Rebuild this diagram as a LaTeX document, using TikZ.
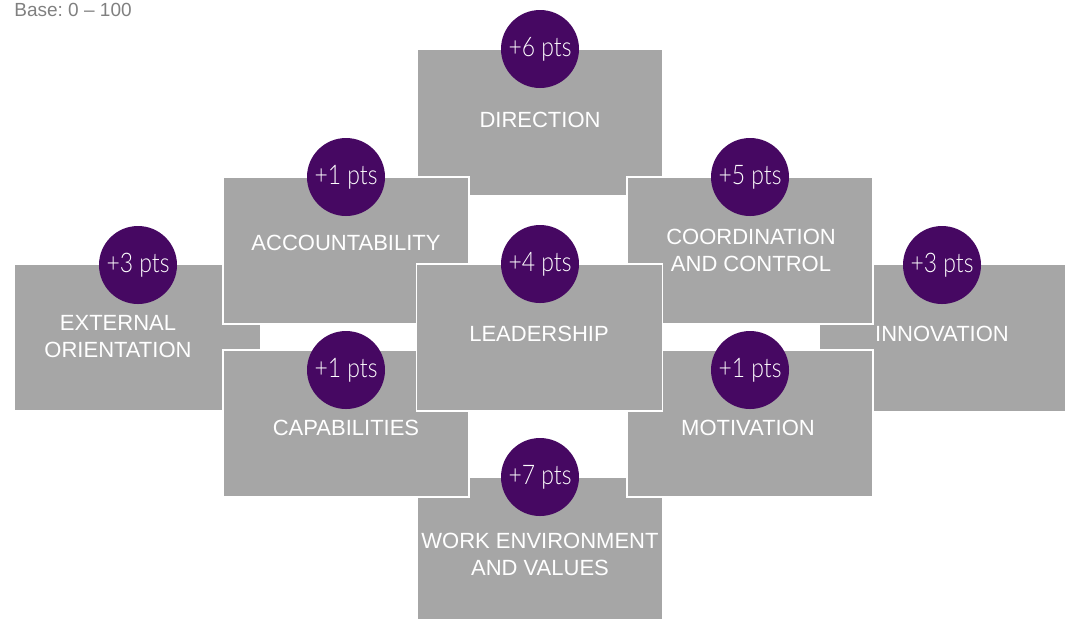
\documentclass[tikz,border=0pt]{standalone}
\usepackage{fontspec}
\setmainfont{Liberation Sans}
\newfontfamily\thinfont[FakeStretch=0.85]{Lato Light}
\frenchspacing
\usetikzlibrary{positioning}
\definecolor{boxgray}{HTML}{A6A6A6}
\definecolor{dotpurple}{HTML}{460862}
\definecolor{basegray}{HTML}{808080}

\tikzset{
  area/.style={rectangle, fill=boxgray, draw=white, line width=0.8pt,
    minimum width=123pt, minimum height=73.5pt, inner sep=0pt},
  areatext/.style={text=white, align=center, inner sep=0pt,
    font=\fontsize{11}{13.5}\selectfont},
  score/.style={circle, fill=dotpurple, minimum size=39pt, inner sep=0pt,
    text=white, font=\thinfont\fontsize{13.5}{15}\selectfont}
}

\begin{document}
\begin{tikzpicture}[x=0.5pt, y=-0.5pt]
        \useasboundingbox (0,0) rectangle (1069,618);
        \node[font=\fontsize{9.5}{11}\selectfont, text=basegray, anchor=west, inner sep=0pt] (base) at (14,10) {Base: 0 -- 100};
        % areas, back to front
        \node[area] (external) at (137.5,337.5) {};
        \node[area] (innovation) at (942.5,338) {};
        \node[area] (direction) at (540,122.5) {};
        \node[area] (workenv) at (540,550.5) {};
        \node[area] (account) at (346,250.5) {};
        \node[area] (coord) at (750,250.5) {};
        \node[area] (capab) at (346,423.5) {};
        \node[area] (motiv) at (750,423.5) {};
        \node[area] (leader) at (539.5,337.5) {};
        % scores
        \node[score] (direction-s) at (540,49) {+6 pts};
        \node[score] (account-s) at (346,177) {+1 pts};
        \node[score] (coord-s) at (750,177) {+5 pts};
        \node[score] (external-s) at (138,265) {+3 pts};
        \node[score] (innovation-s) at (942,265) {+3 pts};
        \node[score] (leader-s) at (540,264) {+4 pts};
        \node[score] (capab-s) at (346,370) {+1 pts};
        \node[score] (motiv-s) at (750,370) {+1 pts};
        \node[score] (workenv-s) at (540,477) {+7 pts};
        % area names
        \node[areatext] (direction-t) at (540,120) {DIRECTION};
        \node[areatext] (account-t) at (346,243) {ACCOUNTABILITY};
        \node[areatext] (coord-t) at (751,250) {COORDINATION\\AND CONTROL};
        \node[areatext] (external-t) at (118,337) {EXTERNAL\\ORIENTATION};
        \node[areatext] (leader-t) at (539,334) {LEADERSHIP};
        \node[areatext] (innovation-t) at (942,334) {INNOVATION};
        \node[areatext] (capab-t) at (346,428) {CAPABILITIES};
        \node[areatext] (motiv-t) at (748,428) {MOTIVATION};
        \node[areatext] (workenv-t) at (540,554) {WORK ENVIRONMENT\\AND VALUES};
\end{tikzpicture}
\end{document}
